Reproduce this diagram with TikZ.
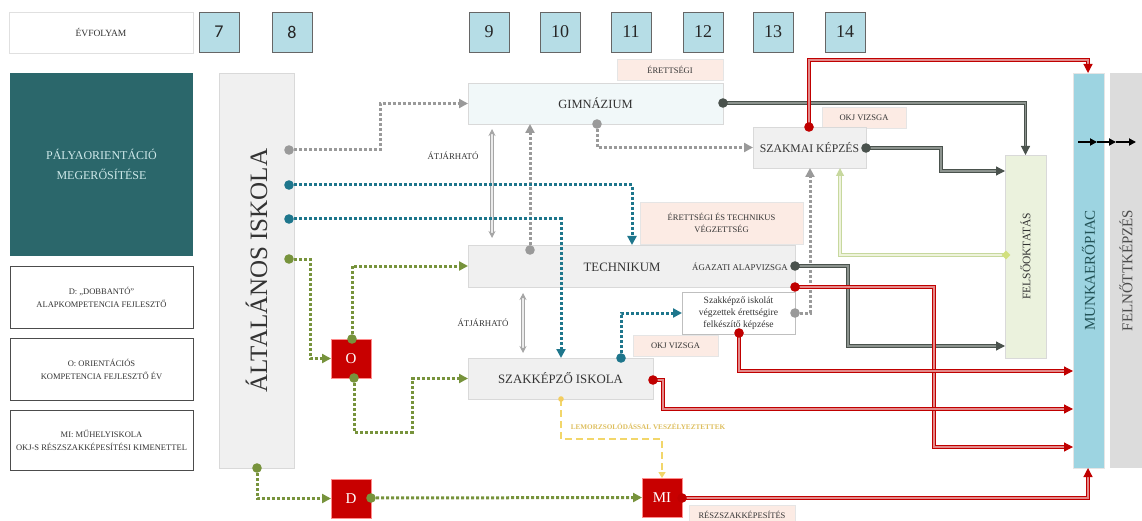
\documentclass[tikz,border=0pt]{standalone}
\usepackage{fontspec}
\setmainfont{Liberation Serif}
\newfontfamily\numfont{Carlito}
\usetikzlibrary{arrows.meta,calc,shapes.geometric}
\definecolor{gradeblue}{HTML}{B6DDE6}
\definecolor{tealbox}{HTML}{2B676B}
\definecolor{tealtext}{HTML}{CFE9EA}
\definecolor{aigrey}{HTML}{F0F0F0}
\definecolor{gimfill}{HTML}{F1F8F9}
\definecolor{peach}{HTML}{FCEBE4}
\definecolor{felsofill}{HTML}{EBF2DD}
\definecolor{munkafill}{HTML}{9DD4E1}
\definecolor{felnottfill}{HTML}{DCDCDC}
\definecolor{boxred}{HTML}{C80000}
\definecolor{dotgrey}{HTML}{9A9A9A}
\definecolor{dotteal}{HTML}{1E768C}
\definecolor{dotgreen}{HTML}{77933C}
\definecolor{dashyellow}{HTML}{F2D66A}
\definecolor{yellowtext}{HTML}{DDBE5E}
\definecolor{darkline}{HTML}{4A524D}
\definecolor{darkinner}{HTML}{8C938E}
\definecolor{redline}{HTML}{C00000}
\definecolor{redinner}{HTML}{E38A8A}
\definecolor{lgline}{HTML}{C7D89E}
\definecolor{lginner}{HTML}{EEF3DC}
\definecolor{txt}{HTML}{333333}
\begin{document}
\begin{tikzpicture}[x=1pt,y=-1pt,
  box/.style={anchor=north west, inner sep=0pt, outer sep=0pt, align=center, text=txt},
  grade/.style={box, fill=gradeblue, draw=black!60, line width=0.8pt, minimum width=40pt, minimum height=40pt, font=\fontsize{18}{18}\selectfont, text=black!85},
  legend/.style={box, fill=white, draw=black!70, line width=0.8pt, minimum width=183pt, minimum height=62pt, font=\fontsize{8.5}{13}\selectfont},
  school/.style={box, fill=aigrey, draw=black!15, line width=0.6pt},
  tag/.style={box, fill=peach, draw=black!10, line width=0.6pt, font=\fontsize{8.5}{12}\selectfont},
  redbox/.style={box, fill=boxred, draw=red!45, line width=0.8pt, minimum width=40pt, minimum height=39pt, text=white, font=\fontsize{15}{15}\selectfont},
  tip/.style={-{Triangle[length=9pt,width=9pt]}},
  gdots/.style={draw=dotgrey, line width=3pt, dash pattern=on 3pt off 2pt, tip},
  tdots/.style={gdots, draw=dotteal},
  grdots/.style={gdots, draw=dotgreen},
  ydash/.style={draw=dashyellow, line width=2.2pt, dash pattern=on 7pt off 4pt, -{Triangle[length=6pt,width=7pt]}},
  dk/.style={draw=darkline, double=darkinner, line width=1.2pt, double distance=1.4pt, -{Triangle[length=9pt,width=9pt]}},
  rd/.style={draw=redline, double=redinner, line width=1.2pt, double distance=1.4pt, -{Triangle[length=9pt,width=9pt]}},
  lg/.style={draw=lgline, double=lginner, line width=1.1pt, double distance=1.2pt, -{Triangle[length=8pt,width=8pt]}},
  atj/.style={draw=black!35, double=black!8, line width=0.9pt, double distance=1.3pt, {Stealth[length=7pt,width=7pt]}-{Stealth[length=7pt,width=7pt]}},
  blk/.style={-{Triangle[length=7pt,width=7pt]}, line width=1.8pt}
]
\useasboundingbox (0,0) rectangle (1142,521);

% header
\node[box, fill=white, draw=black!12, line width=0.6pt, minimum width=184pt, minimum height=41pt, font=\fontsize{9.5}{10}\selectfont] (evf) at (9,12) {ÉVFOLYAM};
\node[grade] (g7) at (199,12) {\numfont 7};
\node[grade] (g8) at (272,12) {\numfont 8};
\node[grade] (g9) at (469,12) {9};
\node[grade] (g10) at (540,12) {10};
\node[grade] (g11) at (611,12) {11};
\node[grade] (g12) at (683,12) {12};
\node[grade] (g13) at (753,12) {13};
\node[grade] (g14) at (825,12) {14};

% left legend
\node[box, fill=tealbox, minimum width=183pt, minimum height=183pt, text=tealtext, font=\fontsize{12}{20}\selectfont] (palya) at (10,73) {PÁLYAORIENTÁCIÓ\\MEGERŐSÍTÉSE};
\node[legend] (legD) at (10,266) {D: „DOBBANTÓ”\\ALAPKOMPETENCIA FEJLESZTŐ};
\node[legend] (legO) at (10,338) {O: ORIENTÁCIÓS\\KOMPETENCIA FEJLESZTŐ ÉV};
\node[legend, minimum height=60pt] (legMI) at (10,410) {MI: MŰHELYISKOLA\\OKJ-S RÉSZSZAKKÉPESÍTÉSI KIMENETTEL};

% Általános iskola
\node[school, minimum width=75pt, minimum height=395pt] (ai) at (219,73) {};
\node[rotate=90, text=txt, font=\fontsize{25}{25}\selectfont] (aitext) at (ai.center) {ÁLTALÁNOS ISKOLA};

% schools
\node[tag, minimum width=106pt, minimum height=21pt] (t1) at (617,59) {ÉRETTSÉGI};
\node[school, fill=gimfill, minimum width=255pt, minimum height=41pt, font=\fontsize{12.5}{14}\selectfont] (gim) at (468,83) {GIMNÁZIUM};
\node[tag, minimum width=84pt, minimum height=21pt] (t2) at (822,107) {OKJ VIZSGA};
\node[school, minimum width=113pt, minimum height=41pt, font=\fontsize{11.7}{13}\selectfont] (szk) at (753,127) {SZAKMAI KÉPZÉS};
\node[tag, minimum width=163pt, minimum height=42pt] (t3) at (640,202) {ÉRETTSÉGI ÉS TECHNIKUS\\VÉGZETTSÉG};
\node[school, minimum width=327pt, minimum height=42pt] (tech) at (468,245) {};
\node[text=txt, font=\fontsize{12.8}{14}\selectfont] (techtext) at (622,267) {TECHNIKUM};
\node[text=txt, font=\fontsize{8.8}{10}\selectfont] (agaz) at (740,267) {ÁGAZATI ALAPVIZSGA};
\node[box, fill=white, draw=black!25, line width=0.6pt, minimum width=113pt, minimum height=42pt, font=\fontsize{9.6}{12}\selectfont] (szi) at (682,292) {Szakképző iskolát\\végzettek érettségire\\felkészítő képzése};
\node[tag, minimum width=85pt, minimum height=21pt] (t4) at (633,335) {OKJ VIZSGA};
\node[school, minimum width=185pt, minimum height=41pt, font=\fontsize{12.8}{14}\selectfont] (ssk) at (468,358) {SZAKKÉPZŐ ISKOLA};

\node[redbox] (o) at (331,339) {O};
\node[redbox] (d) at (331,479) {D};
\node[redbox] (mi) at (642,478) {MI};
\node[tag, minimum width=106pt, minimum height=20pt, anchor=north west] (t5) at (689,505) {RÉSZSZAKKÉPESÍTÉS};

% right columns
\node[box, fill=felsofill, draw=black!15, line width=0.6pt, minimum width=41pt, minimum height=203pt] (felso) at (1005,155) {};
\node[rotate=90, text=txt, font=\fontsize{11.5}{13}\selectfont] at (felso.center) {FELSŐOKTATÁS};
\node[box, fill=munkafill, draw=black!10, line width=0.6pt, minimum width=31pt, minimum height=395pt] (munka) at (1073,73) {};
\node[rotate=90, text=tealbox!80!black, font=\fontsize{15}{16}\selectfont] at (munka.center) {MUNKAERŐPIAC};
\node[box, fill=felnottfill, minimum width=32pt, minimum height=395pt] (felnott) at (1110,73) {};
\node[rotate=90, text=black!70, font=\fontsize{15}{16}\selectfont] at (felnott.center) {FELNŐTTKÉPZÉS};

% labels
\node[text=txt, font=\fontsize{8.8}{10}\selectfont] (atj1) at (453,156) {ÁTJÁRHATÓ};
\node[text=txt, font=\fontsize{8.8}{10}\selectfont] (atj2) at (483,323) {ÁTJÁRHATÓ};
\node[text=yellowtext, font=\bfseries\fontsize{7.2}{8}\selectfont] (lem) at (648,426) {LEMORZSOLÓDÁSSAL VESZÉLYEZTETTEK};

% coordinates of start dots
\coordinate (aiA) at (289,150);
\coordinate (aiB) at (289,185);
\coordinate (aiC) at (289,219);
\coordinate (aiD) at (289,259);
\coordinate (aiE) at (257,468);
\coordinate (gimB) at (597,124);
\coordinate (gimR) at (723,103);
\coordinate (szkT) at (809,127);
\coordinate (szkR) at (866,148);
\coordinate (techT) at (530,250);
\coordinate (techR) at (795,266);
\coordinate (techRB) at (795,287);
\coordinate (sziR) at (795,313);
\coordinate (sziB) at (739,333);
\coordinate (sskT) at (621,358);
\coordinate (sskR) at (653,380);
\coordinate (sskB) at (561,399);
\coordinate (oT) at (352,339);
\coordinate (oB) at (354,378);
\coordinate (dR) at (371,498);
\coordinate (miR) at (682,498);

% átjárható arrows
\draw[atj] (492,129) -- (492,238);
\draw[atj] (523,293) -- (523,353);

% grey dotted
\draw[gdots] (aiA) -| (gim.west -| 380,0) -- (gim.west);
\draw[gdots] (gimB) |- (szk.west);
\draw[gdots] (techT) -- (techT |- gim.south);
\draw[gdots] (sziR) -| (szk.south -| 810,0);

% teal dotted
\draw[tdots] (aiB) -| (tech.north -| 632,0);
\draw[tdots] (aiC) -| (ssk.north -| 561,0);
\draw[tdots] (sskT) |- (szi.west);

% green dotted
\draw[grdots] (aiD) -| (o.west -| 310,0) -- (o.west);
\draw[grdots] (oT) |- (tech.west);
\draw[grdots] (oB) |- (412,432) |- (ssk.west);
\draw[grdots] (aiE) |- (d.west);
\draw[grdots] (dR) -- (mi.west);

% yellow dashed
\draw[ydash] (sskB) |- (662,439) -- (mi.north);

% dark grey
\draw[dk] (gimR) -| (felso.north);
\draw[dk] (szkR) -| (941,171) -- (felso.west |- 0,171);
\draw[dk] (techR) -| (848,346) -- (felso.west |- 0,346);

% light green
\draw[lg] (felso.west |- 0,255) -| (szk.south -| 840,0);
\node[diamond, fill=lgline!80!yellow, inner sep=0pt, minimum size=9pt] (dia) at (1006,255) {};

% red
\draw[rd] (szkT) |- (1088,60) -- (munka.north -| 1088,0);
\draw[rd] (techRB) -| (934,447) -- (munka.west |- 0,447);
\draw[rd] (sziB) |- (munka.west |- 0,371);
\draw[rd] (sskR) -| (663,409) -- (munka.west |- 0,409);
\draw[rd] (miR) -| (munka.south -| 1088,0);

% black arrows
\draw[blk] (1078,142) -- (1097,142);
\draw[blk] (1097,142) -- (1116,142);
\draw[blk] (1116,142) -- (1136,142);

% dots
\foreach \c in {aiA,gimB,techT,sziR} \fill[dotgrey] (\c) circle (4.8pt);
\foreach \c in {aiB,aiC,sskT} \fill[dotteal] (\c) circle (4.8pt);
\foreach \c in {aiD,aiE,oT,oB,dR} \fill[dotgreen] (\c) circle (4.8pt);
\foreach \c in {gimR,szkR,techR} \fill[darkline] (\c) circle (4.8pt);
\foreach \c in {szkT,techRB,sziB,sskR,miR} \fill[redline] (\c) circle (4.8pt);
\fill[dashyellow!90!orange] (sskB) circle (2.8pt);
\end{tikzpicture}
\end{document}
